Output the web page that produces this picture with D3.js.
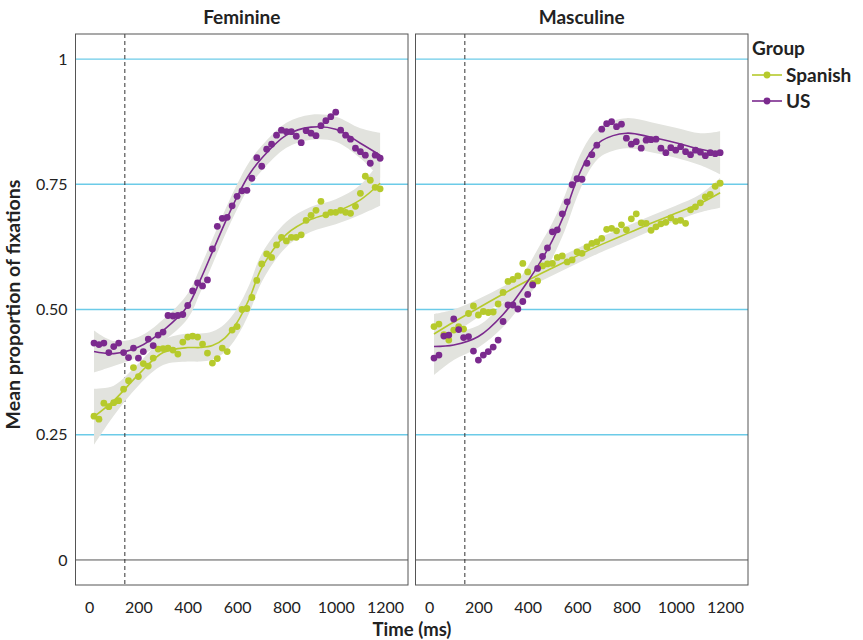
<!DOCTYPE html>
<html><head><meta charset="utf-8">
<script src="https://cdn.jsdelivr.net/npm/d3@7"></script>
<style>body{margin:0;background:#fff}svg{display:block}text{font-family:Lato,"Open Sans",sans-serif}</style>
</head><body><svg id="c" width="863" height="640"></svg>
<script>
const panels = ["Feminine","Masculine"];
const groups = ["Spanish","US"];
const times = [20,40,60,80,100,120,140,160,180,200,220,240,260,280,300,320,340,360,380,400,420,440,460,480,500,520,540,560,580,600,620,640,660,680,700,720,740,760,780,800,820,840,860,880,900,920,940,960,980,1000,1020,1040,1060,1080,1100,1120,1140,1160,1180];
const femSpanish = [0.287,0.281,0.313,0.306,0.314,0.318,0.341,0.358,0.384,0.366,0.392,0.387,0.403,0.421,0.422,0.423,0.419,0.411,0.435,0.445,0.447,0.445,0.431,0.413,0.393,0.402,0.423,0.416,0.459,0.466,0.500,0.502,0.524,0.558,0.591,0.611,0.604,0.629,0.644,0.637,0.644,0.644,0.649,0.678,0.688,0.698,0.716,0.689,0.694,0.694,0.698,0.694,0.692,0.706,0.732,0.766,0.758,0.744,0.741];
const femUS = [0.433,0.430,0.433,0.414,0.426,0.433,0.414,0.404,0.423,0.403,0.416,0.441,0.428,0.449,0.455,0.488,0.487,0.488,0.490,0.508,0.537,0.553,0.547,0.559,0.621,0.666,0.682,0.684,0.707,0.726,0.737,0.738,0.762,0.803,0.786,0.820,0.830,0.848,0.858,0.855,0.855,0.846,0.833,0.857,0.852,0.847,0.867,0.877,0.885,0.894,0.858,0.848,0.840,0.822,0.815,0.808,0.792,0.808,0.802];
const mascSpanish = [0.466,0.471,0.450,0.439,0.459,0.466,0.461,0.492,0.507,0.489,0.496,0.494,0.495,0.511,0.534,0.556,0.560,0.567,0.592,0.575,0.552,0.557,0.587,0.591,0.592,0.604,0.607,0.595,0.599,0.615,0.612,0.625,0.632,0.635,0.642,0.660,0.662,0.657,0.669,0.659,0.681,0.691,0.673,0.672,0.658,0.665,0.671,0.674,0.683,0.676,0.678,0.672,0.699,0.705,0.713,0.725,0.730,0.746,0.752];
const mascUS = [0.403,0.409,0.447,0.449,0.481,0.460,0.444,0.446,0.417,0.399,0.409,0.416,0.425,0.439,0.476,0.509,0.509,0.501,0.516,0.530,0.549,0.582,0.606,0.623,0.655,0.659,0.691,0.715,0.749,0.761,0.760,0.792,0.809,0.828,0.860,0.871,0.875,0.865,0.870,0.842,0.830,0.835,0.822,0.838,0.839,0.840,0.822,0.813,0.823,0.818,0.825,0.815,0.809,0.818,0.814,0.807,0.813,0.811,0.813];
// smoothed fit and ribbon half-widths
const fitTimes = [20,100,200,300,400,450,500,550,600,650,700,800,900,1000,1100,1180];
const femSpanishFit = [0.286,0.318,0.370,0.414,0.424,0.424,0.428,0.443,0.474,0.522,0.583,0.650,0.680,0.695,0.719,0.752];
const femSpanishSE  = [0.056,0.030,0.022,0.025,0.028,0.028,0.028,0.028,0.028,0.028,0.028,0.025,0.025,0.025,0.030,0.045];
const femUSFit = [0.416,0.412,0.425,0.458,0.507,0.558,0.615,0.672,0.725,0.770,0.802,0.848,0.864,0.860,0.832,0.808];
const femUSSE  = [0.042,0.025,0.020,0.022,0.025,0.025,0.025,0.025,0.025,0.025,0.025,0.025,0.025,0.025,0.030,0.045];
const mascSpanishFit = [0.451,0.475,0.503,0.531,0.558,0.571,0.583,0.595,0.607,0.619,0.630,0.651,0.672,0.692,0.712,0.733];
const mascSpanishSE  = [0.040,0.025,0.018,0.015,0.015,0.015,0.015,0.015,0.015,0.015,0.015,0.015,0.015,0.015,0.018,0.030];
const mascUSFit = [0.426,0.429,0.446,0.490,0.556,0.594,0.638,0.692,0.760,0.810,0.837,0.852,0.844,0.833,0.820,0.813];
const mascUSSE  = [0.057,0.030,0.022,0.025,0.030,0.035,0.035,0.035,0.035,0.032,0.030,0.030,0.030,0.030,0.032,0.043];
const onsetMs = 145;
const xTicks = [0,200,400,600,800,1000,1200];
const yTicks = [0,0.25,0.5,0.75,1];
const yTickLabels = ["0","0.25","0.50","0.75","1"];
const colors = {Spanish:"#b6ca2c", US:"#7b2a8e"};

const series = {
  Feminine: {Spanish:{pts:femSpanish, fit:femSpanishFit, se:femSpanishSE}, US:{pts:femUS, fit:femUSFit, se:femUSSE}},
  Masculine:{Spanish:{pts:mascSpanish, fit:mascSpanishFit, se:mascSpanishSE}, US:{pts:mascUS, fit:mascUSFit, se:mascUSSE}}
};

const svg = d3.select("#c");
const yTop = 34, yBot = 585;
const panelX = [75.5, 415.5], panelW = 332.5;
const y = d3.scaleLinear().domain([-0.05,1.05]).range([yBot, yTop]);
const curve = d3.curveCatmullRom.alpha(0.5);

panels.forEach((p, i) => {
  const x0 = panelX[i];
  const x = d3.scaleLinear().domain([-55,1293]).range([x0, x0+panelW]);
  const g = svg.append("g");
  g.selectAll("line.grid").data(yTicks).join("line")
    .attr("x1", x0).attr("x2", x0+panelW)
    .attr("y1", d=>y(d)).attr("y2", d=>y(d))
    .attr("stroke", d=> d===0 ? "#555" : "#6ccbe8").attr("stroke-width", d=> d===0 ? 1 : 1.3);
  g.append("line").attr("x1", x(onsetMs)).attr("x2", x(onsetMs)).attr("y1", yTop).attr("y2", yBot)
    .attr("stroke","#333").attr("stroke-width",1).attr("stroke-dasharray","4,3");
  const area = d3.area().x((d,k)=>x(fitTimes[k])).y0(d=>y(d[0]-d[1])).y1(d=>y(d[0]+d[1])).curve(curve);
  const line = d3.line().x((d,k)=>x(fitTimes[k])).y(d=>y(d)).curve(curve);
  groups.forEach(gr => {
    const s = series[p][gr];
    g.append("path").attr("d", area(s.fit.map((v,k)=>[v, s.se[k]]))).attr("fill","#e2e3de");
  });
  groups.forEach(gr => {
    const s = series[p][gr];
    g.append("path").attr("d", line(s.fit)).attr("fill","none").attr("stroke",colors[gr]).attr("stroke-width",1.6);
  });
  groups.forEach(gr => {
    const s = series[p][gr];
    g.selectAll(null).data(s.pts).join("circle")
      .attr("cx",(d,k)=>x(times[k])).attr("cy",d=>y(d)).attr("r",3.4).attr("fill",colors[gr]);
  });
  g.append("rect").attr("x",x0).attr("y",yTop).attr("width",panelW).attr("height",yBot-yTop)
    .attr("fill","none").attr("stroke","#555").attr("stroke-width",1);
  svg.append("text").attr("x", x0+panelW/2).attr("y", 24).attr("text-anchor","middle")
    .attr("font-size",19).attr("font-weight","bold").attr("fill","#222").text(p);
  const ax = svg.append("g").attr("transform",`translate(0,${yBot})`)
    .call(d3.axisBottom(x).tickValues(xTicks).tickSize(0).tickPadding(17).tickFormat(d3.format("d")));
  ax.select(".domain").remove();
  ax.selectAll("text").attr("font-size",16).attr("fill","#222").style("font-family","Lato, sans-serif");
});

const ay = svg.append("g").attr("transform",`translate(${panelX[0]},0)`)
  .call(d3.axisLeft(y).tickValues(yTicks).tickSize(0).tickPadding(8).tickFormat((d,k)=>yTickLabels[k]));
ay.select(".domain").remove();
ay.selectAll("text").attr("font-size",16).attr("fill","#222").style("font-family","Lato, sans-serif");

svg.append("text").attr("transform",`translate(20,${(yTop+yBot)/2 - 5}) rotate(-90)`).attr("text-anchor","middle")
  .attr("font-size",19.5).attr("font-weight","bold").attr("fill","#222").text("Mean proportion of fixations");
svg.append("text").attr("x",412).attr("y",636).attr("text-anchor","middle")
  .attr("font-size",18.5).attr("font-weight","bold").attr("fill","#222").text("Time (ms)");

const lg = svg.append("g");
lg.append("text").attr("x",752).attr("y",55).attr("font-size",19).attr("font-weight","bold").attr("fill","#222").text("Group");
groups.forEach((gr,k)=>{
  const yy = 75 + k*26;
  lg.append("line").attr("x1",752).attr("x2",782).attr("y1",yy).attr("y2",yy).attr("stroke",colors[gr]).attr("stroke-width",1.6);
  lg.append("circle").attr("cx",767).attr("cy",yy).attr("r",3.4).attr("fill",colors[gr]);
  lg.append("text").attr("x",786).attr("y",yy+7).attr("font-size",19).attr("font-weight","bold").attr("fill","#222").text(gr);
});
</script></body></html>
